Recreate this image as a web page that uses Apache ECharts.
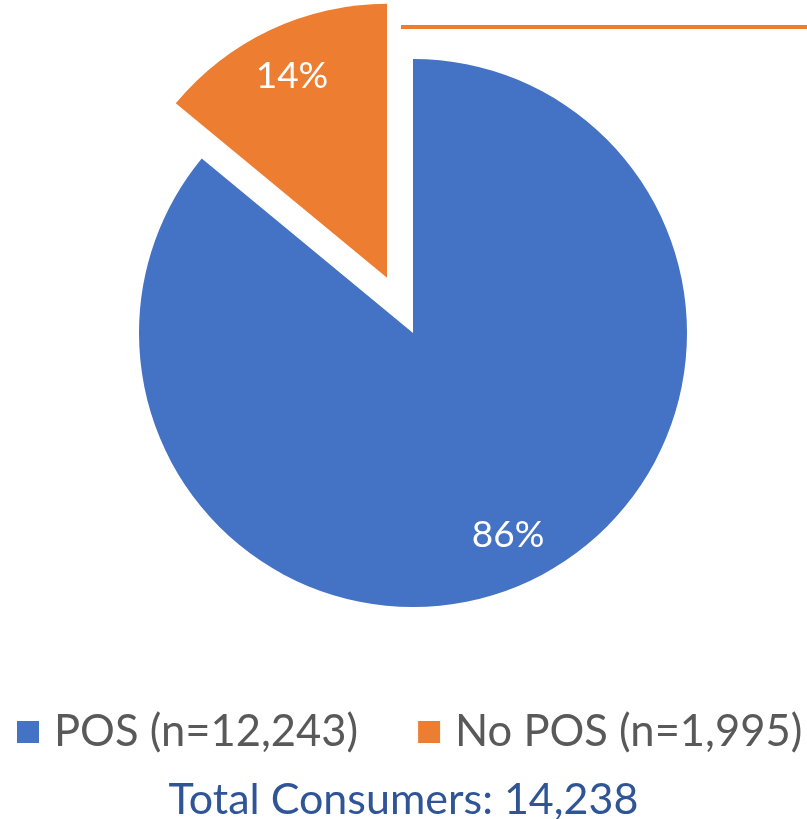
<!DOCTYPE html>
<html>
<head>
<meta charset="utf-8">
<script src="https://cdn.jsdelivr.net/npm/echarts@6/dist/echarts.min.js"></script>
<style>
  html, body { margin: 0; padding: 0; background: #fff; }
  #chart { width: 807px; height: 819px; }
</style>
</head>
<body>
<div id="chart"></div>
<script>
// chart data
const categories = ['POS', 'No POS']
const counts = [12243, 1995]
const colors = ['#4472C4', '#ED7D31']
const explodedCategory = 'No POS'

const fmt = n => n.toLocaleString('en-US')
const total = counts.reduce((a, b) => a + b, 0)
const names = categories.map((c, i) => c + ' (n=' + fmt(counts[i]) + ')')

const pieData = categories.map((c, i) => ({
  name: names[i],
  value: counts[i],
  selected: c === explodedCategory,
  itemStyle: { color: colors[i] }
}))

const font = 'Lato, "Open Sans", sans-serif'
const chart = echarts.init(document.getElementById('chart'))

chart.setOption({
  animation: false,
  title: {
    text: 'Total Consumers: ' + fmt(total),
    left: 'center',
    top: 774,
    textStyle: { fontFamily: font, fontSize: 43, fontWeight: 'normal', color: '#2F5597' }
  },
  legend: {
    data: names,
    left: 17,
    top: 710,
    width: 790,
    padding: 0,
    itemWidth: 22,
    itemHeight: 22,
    itemGap: 60,
    icon: 'rect',
    selectedMode: false,
    textStyle: { fontFamily: font, fontSize: 43.5, color: '#595959', padding: [0, 0, 0, 10] }
  },
  graphic: [{
    type: 'line',
    shape: { x1: 401, y1: 27, x2: 807, y2: 27 },
    style: { stroke: '#ED7D31', lineWidth: 4 }
  }],
  series: [{
    // the pie itself
    type: 'pie',
    center: [413, 333],
    radius: 274,
    startAngle: 90,
    clockwise: true,
    selectedMode: 'single',
    selectedOffset: 61,
    label: { show: false },
    labelLine: { show: false },
    emphasis: { disabled: true },
    data: pieData
  }, {
    // transparent ring just for placing the percentage labels further out
    type: 'pie',
    silent: true,
    center: [413, 333],
    radius: [166, 274],
    startAngle: 90,
    clockwise: true,
    selectedMode: 'single',
    selectedOffset: 61,
    itemStyle: { color: 'rgba(0,0,0,0)' },
    emphasis: { disabled: true },
    label: {
      show: true,
      position: 'inside',
      fontFamily: font,
      fontSize: 37,
      color: '#fff',
      formatter: p => Math.round(p.percent) + '%'
    },
    labelLine: { show: false },
    data: pieData.map(d => ({ name: d.name, value: d.value, selected: d.selected }))
  }]
})
</script>
</body>
</html>
